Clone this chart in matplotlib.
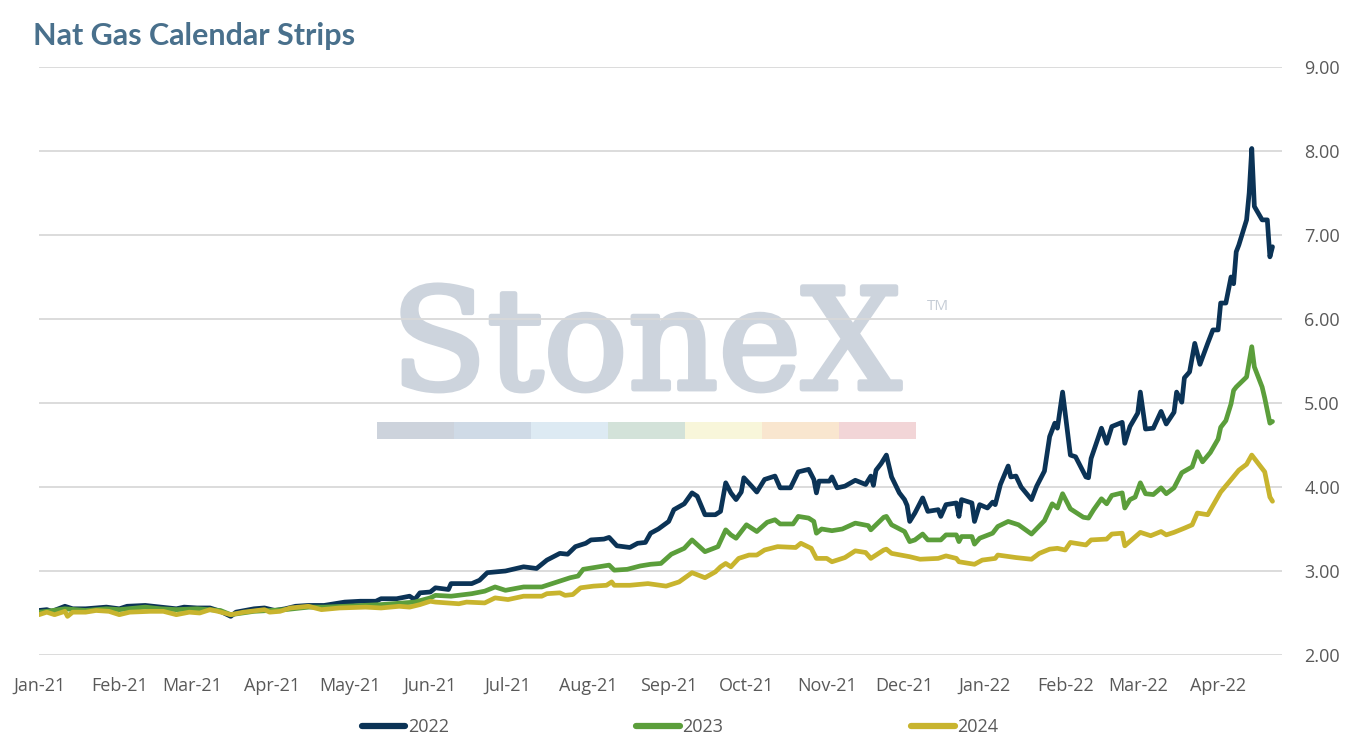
import matplotlib.pyplot as plt
import matplotlib.dates as mdates
import matplotlib.patheffects as pe
from matplotlib.patches import Rectangle
import pandas as pd

plt.rcParams['font.family'] = ['Open Sans', 'DejaVu Sans']

# ---- data (calendar strip settlements, $/MMBtu) ----
d22 = ['2021-01-01', '2021-01-04', '2021-01-06', '2021-01-11', '2021-01-14', '2021-01-19', '2021-01-27',
       '2021-02-01', '2021-02-04', '2021-02-11', '2021-02-17', '2021-02-23', '2021-02-26',
       '2021-03-03', '2021-03-08', '2021-03-12', '2021-03-16', '2021-03-18', '2021-03-25', '2021-03-29',
       '2021-04-02', '2021-04-06', '2021-04-10', '2021-04-15', '2021-04-21', '2021-04-29',
       '2021-05-05', '2021-05-11', '2021-05-13', '2021-05-19', '2021-05-24', '2021-05-26', '2021-05-28',
       '2021-06-01', '2021-06-03', '2021-06-08', '2021-06-09', '2021-06-17', '2021-06-20', '2021-06-23', '2021-06-30',
       '2021-07-07', '2021-07-12', '2021-07-16', '2021-07-21', '2021-07-24', '2021-07-27', '2021-07-31',
       '2021-08-02', '2021-08-07', '2021-08-09', '2021-08-12', '2021-08-17', '2021-08-20', '2021-08-23',
       '2021-08-25', '2021-08-28',
       '2021-09-01', '2021-09-03', '2021-09-07', '2021-09-10', '2021-09-12', '2021-09-15', '2021-09-19',
       '2021-09-21', '2021-09-23', '2021-09-25', '2021-09-27', '2021-09-29', '2021-09-30',
       '2021-10-03', '2021-10-05', '2021-10-08', '2021-10-12', '2021-10-14', '2021-10-18', '2021-10-21',
       '2021-10-25', '2021-10-27', '2021-10-28', '2021-10-29',
       '2021-11-02', '2021-11-03', '2021-11-05', '2021-11-08', '2021-11-12', '2021-11-16', '2021-11-18',
       '2021-11-19', '2021-11-20', '2021-11-22', '2021-11-24', '2021-11-26', '2021-11-29',
       '2021-12-01', '2021-12-02', '2021-12-03', '2021-12-05', '2021-12-08', '2021-12-10', '2021-12-14',
       '2021-12-15', '2021-12-17', '2021-12-21', '2021-12-22', '2021-12-23', '2021-12-27', '2021-12-28',
       '2021-12-30',
       '2022-01-02', '2022-01-04', '2022-01-05', '2022-01-07', '2022-01-10', '2022-01-11', '2022-01-13',
       '2022-01-15', '2022-01-19', '2022-01-21', '2022-01-24', '2022-01-26', '2022-01-28', '2022-01-29',
       '2022-01-31',
       '2022-02-03', '2022-02-05', '2022-02-09', '2022-02-10', '2022-02-11', '2022-02-15', '2022-02-17',
       '2022-02-19', '2022-02-23', '2022-02-24', '2022-02-26',
       '2022-03-01', '2022-03-02', '2022-03-04', '2022-03-07', '2022-03-10', '2022-03-12', '2022-03-15',
       '2022-03-16', '2022-03-18', '2022-03-19', '2022-03-21', '2022-03-23', '2022-03-25', '2022-03-28',
       '2022-03-30',
       '2022-04-01', '2022-04-02', '2022-04-04', '2022-04-06', '2022-04-07', '2022-04-08', '2022-04-09',
       '2022-04-12', '2022-04-13', '2022-04-14', '2022-04-15', '2022-04-18', '2022-04-20', '2022-04-21',
       '2022-04-22']
v22 = [2.53, 2.54, 2.52, 2.58, 2.55, 2.55, 2.57,
       2.55, 2.58, 2.59, 2.57, 2.55, 2.57,
       2.56, 2.56, 2.52, 2.46, 2.51, 2.55, 2.56,
       2.53, 2.55, 2.58, 2.59, 2.59, 2.63,
       2.64, 2.64, 2.67, 2.67, 2.70, 2.66, 2.74,
       2.75, 2.80, 2.78, 2.85, 2.85, 2.89, 2.98, 3.00,
       3.05, 3.03, 3.13, 3.21, 3.20, 3.29, 3.33,
       3.37, 3.38, 3.40, 3.30, 3.28, 3.33, 3.34,
       3.45, 3.50,
       3.59, 3.73, 3.80, 3.93, 3.89, 3.67, 3.67,
       3.71, 4.05, 3.93, 3.85, 3.94, 4.11,
       4.01, 3.94, 4.09, 4.13, 3.99, 3.99, 4.18,
       4.21, 4.09, 3.93, 4.07,
       4.07, 4.12, 3.99, 4.01, 4.08, 4.03, 4.13,
       4.02, 4.20, 4.28, 4.38, 4.12, 3.93,
       3.85, 3.78, 3.59, 3.69, 3.87, 3.71, 3.73,
       3.65, 3.79, 3.81, 3.65, 3.85, 3.81, 3.59,
       3.79,
       3.75, 3.82, 3.79, 4.03, 4.25, 4.12, 4.13,
       4.00, 3.85, 4.01, 4.19, 4.60, 4.76, 4.70,
       5.13,
       4.38, 4.36, 4.12, 4.11, 4.34, 4.70, 4.52,
       4.72, 4.77, 4.52, 4.72,
       4.88, 5.13, 4.69, 4.70, 4.90, 4.75, 4.89,
       5.13, 5.01, 5.30, 5.37, 5.71, 5.46, 5.71,
       5.87,
       5.87, 6.19, 6.19, 6.50, 6.42, 6.80, 6.88,
       7.18, 7.50, 8.03, 7.34, 7.18, 7.18, 6.74,
       6.86]

d23 = ['2021-01-01', '2021-01-04', '2021-01-11', '2021-01-19', '2021-01-27',
       '2021-02-01', '2021-02-11', '2021-02-17', '2021-02-23',
       '2021-03-03', '2021-03-12', '2021-03-16', '2021-03-25',
       '2021-04-06', '2021-04-15', '2021-04-21', '2021-04-29',
       '2021-05-13', '2021-05-26',
       '2021-06-01', '2021-06-03', '2021-06-09', '2021-06-17', '2021-06-22', '2021-06-26', '2021-06-30',
       '2021-07-07', '2021-07-14', '2021-07-20', '2021-07-25', '2021-07-28', '2021-07-30',
       '2021-08-03', '2021-08-09', '2021-08-11', '2021-08-16', '2021-08-21', '2021-08-25', '2021-08-29',
       '2021-09-02', '2021-09-07', '2021-09-10', '2021-09-15', '2021-09-20', '2021-09-23', '2021-09-25',
       '2021-09-27', '2021-09-29',
       '2021-10-01', '2021-10-05', '2021-10-09', '2021-10-12', '2021-10-14', '2021-10-19', '2021-10-21',
       '2021-10-25', '2021-10-27', '2021-10-28', '2021-10-30',
       '2021-11-03', '2021-11-07', '2021-11-12', '2021-11-17', '2021-11-18', '2021-11-23', '2021-11-24',
       '2021-11-26',
       '2021-12-01', '2021-12-03', '2021-12-05', '2021-12-08', '2021-12-10', '2021-12-15', '2021-12-17',
       '2021-12-21', '2021-12-22', '2021-12-23', '2021-12-27', '2021-12-28', '2021-12-30',
       '2022-01-04', '2022-01-06', '2022-01-10', '2022-01-14', '2022-01-19', '2022-01-24', '2022-01-27',
       '2022-01-29', '2022-01-31',
       '2022-02-03', '2022-02-04', '2022-02-08', '2022-02-10', '2022-02-12', '2022-02-15', '2022-02-17',
       '2022-02-19', '2022-02-23', '2022-02-24', '2022-02-26', '2022-02-28',
       '2022-03-02', '2022-03-04', '2022-03-07', '2022-03-10', '2022-03-12', '2022-03-15', '2022-03-16',
       '2022-03-18', '2022-03-22', '2022-03-24', '2022-03-26', '2022-03-29',
       '2022-04-01', '2022-04-02', '2022-04-04', '2022-04-06', '2022-04-07', '2022-04-08', '2022-04-12',
       '2022-04-14', '2022-04-15', '2022-04-18', '2022-04-19', '2022-04-21', '2022-04-22']
v23 = [2.51, 2.52, 2.55, 2.53, 2.55,
       2.54, 2.57, 2.55, 2.54,
       2.55, 2.53, 2.48, 2.52,
       2.54, 2.57, 2.57, 2.58,
       2.60, 2.63,
       2.68, 2.71, 2.70, 2.73, 2.76, 2.81, 2.77,
       2.81, 2.81, 2.87, 2.92, 2.94, 3.02,
       3.04, 3.07, 3.01, 3.02, 3.06, 3.08, 3.09,
       3.20, 3.27, 3.37, 3.23, 3.29, 3.49, 3.43,
       3.39, 3.47,
       3.55, 3.47, 3.58, 3.61, 3.56, 3.56, 3.65,
       3.63, 3.59, 3.45, 3.50,
       3.48, 3.50, 3.57, 3.54, 3.49, 3.64, 3.65,
       3.55,
       3.47, 3.35, 3.37, 3.44, 3.37, 3.37, 3.43,
       3.43, 3.35, 3.41, 3.41, 3.32, 3.39,
       3.45, 3.53, 3.59, 3.55, 3.44, 3.60, 3.80,
       3.75, 3.92,
       3.74, 3.72, 3.64, 3.63, 3.73, 3.86, 3.80,
       3.90, 3.93, 3.75, 3.85, 3.88,
       4.05, 3.92, 3.91, 3.99, 3.92, 3.99, 4.05,
       4.17, 4.24, 4.42, 4.30, 4.41,
       4.57, 4.71, 4.79, 4.99, 5.15, 5.19, 5.31,
       5.67, 5.43, 5.19, 5.06, 4.76, 4.78]

d24 = ['2021-01-01', '2021-01-04', '2021-01-07', '2021-01-11', '2021-01-12', '2021-01-14', '2021-01-19',
       '2021-01-23', '2021-01-28',
       '2021-02-01', '2021-02-05', '2021-02-13', '2021-02-18', '2021-02-23', '2021-02-28',
       '2021-03-04', '2021-03-08', '2021-03-11', '2021-03-16', '2021-03-21', '2021-03-29', '2021-03-31',
       '2021-04-04', '2021-04-08', '2021-04-15', '2021-04-20', '2021-04-27',
       '2021-05-07', '2021-05-13', '2021-05-20', '2021-05-24', '2021-05-28',
       '2021-06-01', '2021-06-03', '2021-06-12', '2021-06-15', '2021-06-22', '2021-06-26',
       '2021-07-01', '2021-07-07', '2021-07-14', '2021-07-16', '2021-07-21', '2021-07-23', '2021-07-26',
       '2021-07-29',
       '2021-08-03', '2021-08-08', '2021-08-10', '2021-08-11', '2021-08-17', '2021-08-24', '2021-08-31',
       '2021-09-05', '2021-09-10', '2021-09-15', '2021-09-19', '2021-09-21', '2021-09-23', '2021-09-25',
       '2021-09-28',
       '2021-10-02', '2021-10-05', '2021-10-08', '2021-10-13', '2021-10-20', '2021-10-22', '2021-10-26',
       '2021-10-28',
       '2021-11-01', '2021-11-03', '2021-11-08', '2021-11-12', '2021-11-16', '2021-11-18', '2021-11-23',
       '2021-11-24', '2021-11-26',
       '2021-12-03', '2021-12-07', '2021-12-14', '2021-12-17', '2021-12-21', '2021-12-22', '2021-12-28',
       '2021-12-31',
       '2022-01-05', '2022-01-06', '2022-01-13', '2022-01-19', '2022-01-22', '2022-01-26', '2022-01-29',
       '2022-02-01', '2022-02-03', '2022-02-09', '2022-02-11', '2022-02-17', '2022-02-19', '2022-02-23',
       '2022-02-24',
       '2022-03-02', '2022-03-06', '2022-03-10', '2022-03-12', '2022-03-15', '2022-03-19', '2022-03-22',
       '2022-03-24', '2022-03-28',
       '2022-04-02', '2022-04-05', '2022-04-09', '2022-04-12', '2022-04-14', '2022-04-17', '2022-04-19',
       '2022-04-21', '2022-04-22']
v24 = [2.48, 2.51, 2.48, 2.52, 2.46, 2.51, 2.51,
       2.53, 2.52,
       2.48, 2.51, 2.52, 2.52, 2.48, 2.51,
       2.50, 2.54, 2.52, 2.48, 2.51, 2.54, 2.51,
       2.52, 2.56, 2.58, 2.54, 2.56,
       2.57, 2.56, 2.58, 2.57, 2.60,
       2.64, 2.63, 2.61, 2.63, 2.62, 2.68,
       2.66, 2.70, 2.70, 2.73, 2.74, 2.71, 2.72,
       2.80,
       2.82, 2.83, 2.87, 2.83, 2.83, 2.85, 2.82,
       2.87, 2.98, 2.92, 2.99, 3.05, 3.09, 3.05,
       3.15,
       3.19, 3.19, 3.25, 3.29, 3.28, 3.33, 3.27,
       3.15,
       3.15, 3.11, 3.16, 3.24, 3.22, 3.15, 3.25,
       3.26, 3.21,
       3.17, 3.14, 3.15, 3.18, 3.15, 3.11, 3.08,
       3.13,
       3.15, 3.19, 3.16, 3.14, 3.21, 3.26, 3.27,
       3.25, 3.34, 3.31, 3.37, 3.38, 3.44, 3.45,
       3.30,
       3.46, 3.42, 3.47, 3.43, 3.46, 3.51, 3.55,
       3.69, 3.67,
       3.94, 4.05, 4.20, 4.27, 4.38, 4.26, 4.18,
       3.88, 3.83]

series = [('2022', d22, v22, '#0B3356'),
          ('2023', d23, v23, '#5B9E3B'),
          ('2024', d24, v24, '#C8B42E')]

months = pd.date_range('2021-01-01', '2022-04-01', freq='MS')
yticks = [2, 3, 4, 5, 6, 7, 8, 9]

W, H = 1350, 750
fig = plt.figure(figsize=(W / 100, H / 100), dpi=100)
ax = fig.add_axes([39 / W, 1 - 655 / H, (1282 - 39) / W, (655 - 67) / H])
ax.set_facecolor('none')

# watermark behind the gridlines
wm = '#CDD4DD'
ax.text(646 / W, 1 - 389 / H, 'StoneX', family='DejaVu Serif', fontsize=101,
        color=wm, ha='center', va='baseline', transform=fig.transFigure, zorder=0.5,
        path_effects=[pe.withStroke(linewidth=3.5, foreground=wm)])
ax.text(927 / W, 1 - 310 / H, 'TM', fontsize=11, color='#C6CDD6',
        va='baseline', transform=fig.transFigure, zorder=0.5)
band = ['#CDD3DC', '#CFDAE6', '#DDEAF3', '#D3E2D9', '#F8F6DA', '#F9E6CF', '#F2D5D7']
for i, c in enumerate(band):
    ax.add_patch(Rectangle(((377 + i * 77) / W, 1 - 439 / H), 77 / W, 17 / H, color=c,
                           transform=fig.transFigure, clip_on=False, zorder=0.5, lw=0))

for name, d, v, c in series:
    ax.plot(pd.to_datetime(d), v, color=c, lw=3.4, label=name,
            solid_joinstyle='round', solid_capstyle='round', zorder=3)

ax.set_ylim(2, 9)
ax.set_yticks(yticks)
ax.set_yticklabels(['%.2f' % t for t in yticks])
ax.set_xlim(pd.Timestamp('2021-01-01'), pd.Timestamp('2022-04-25 16:00'))
ax.set_xticks(months)
ax.xaxis.set_major_formatter(mdates.DateFormatter('%b-%y'))
ax.yaxis.tick_right()
ax.tick_params(length=0, labelsize=13, colors='#595959', pad=16)
ax.grid(axis='y', color='#D9D9D9', lw=1.3)
for s in ax.spines.values():
    s.set_visible(False)

leg = ax.legend(loc='center', bbox_to_anchor=(680 / W, 1 - 727 / H), bbox_transform=fig.transFigure,
                ncol=3, frameon=False, handlelength=2.4, handletextpad=0.15, columnspacing=10.4,
                fontsize=13, labelcolor='#595959')
for ln in leg.get_lines():
    ln.set_linewidth(4.5)
    ln.set_solid_capstyle('round')

fig.text(33 / W, 1 - 45 / H, 'Nat Gas Calendar Strips', fontsize=22, fontweight='bold',
         color='#49708C', va='baseline', family=['Lato', 'DejaVu Sans'])

fig.savefig('out.png', dpi=100)
